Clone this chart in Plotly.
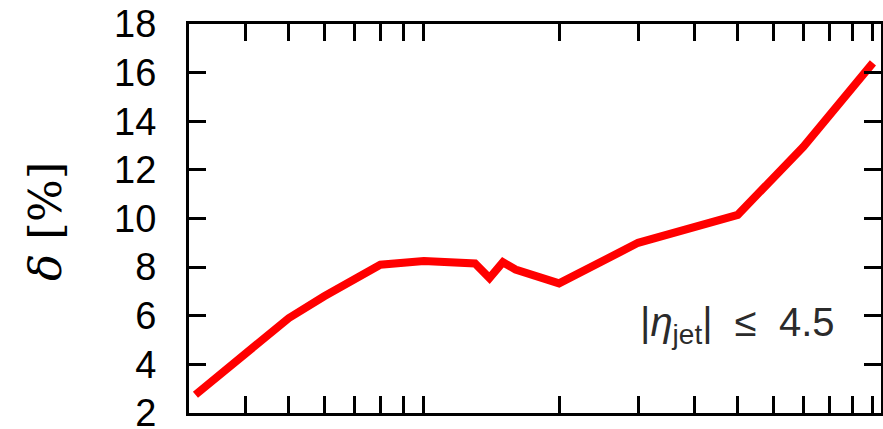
import plotly.graph_objects as go

# data
x_vals = [31, 50, 60, 80, 100, 130, 140, 150, 160, 200, 300, 500, 700, 1000]
delta_pct = [2.75, 5.9, 6.8, 8.1, 8.25, 8.15, 7.55, 8.2, 7.9, 7.33, 9.0, 10.15, 12.95, 16.4]

x_ticks = [40, 50, 60, 70, 80, 90, 100, 200, 300, 400, 500, 600, 700, 800, 900, 1000]
y_ticks = [2, 4, 6, 8, 10, 12, 14, 16, 18]

fig = go.Figure()
fig.add_trace(go.Scatter(x=x_vals, y=delta_pct, mode="lines",
                         line=dict(color="#ff0000", width=8), showlegend=False))

fig.update_layout(
    width=883, height=429,
    margin=dict(l=189, r=2, t=24, b=16),
    paper_bgcolor="white", plot_bgcolor="white",
    font=dict(family="Liberation Sans, Arial, sans-serif", color="black"),
)
fig.update_xaxes(type="log", range=[1.477, 3.018], tickmode="array", tickvals=x_ticks,
                 showticklabels=False, ticks="inside", ticklen=17, tickwidth=3,
                 tickcolor="black", showline=True, linecolor="black", linewidth=3,
                 mirror="ticks", showgrid=False, zeroline=False, automargin=False)
fig.update_yaxes(range=[2, 18], tickmode="array", tickvals=y_ticks,
                 ticks="inside", ticklen=17, tickwidth=3, tickcolor="black",
                 showline=True, linecolor="black", linewidth=3, mirror="ticks",
                 showgrid=False, zeroline=False, ticklabelstandoff=22,
                 ticklabeloverflow="allow", automargin=False,
                 tickfont=dict(size=38, family="Liberation Sans, Arial, sans-serif"))

fig.add_annotation(xref="paper", yref="paper", x=-0.208, y=0.491,
                   text="<i>δ</i> [%]", textangle=-90, showarrow=False,
                   xanchor="center", yanchor="middle",
                   font=dict(size=45, family="DejaVu Serif, serif", color="black"))
fig.add_annotation(xref="paper", yref="paper", x=0.936, y=0.226,
                   text="|<i>η</i><sub>jet</sub>|\u00a0\u00a0≤\u00a0\u00a04.5", showarrow=False,
                   xanchor="right", yanchor="middle",
                   font=dict(size=40, family="Liberation Sans, Arial, sans-serif", color="#2b2b2b"))

fig.write_html("out.html", config={"displayModeBar": False},
               post_script="document.body.style.margin='0';document.body.style.padding='0';")
